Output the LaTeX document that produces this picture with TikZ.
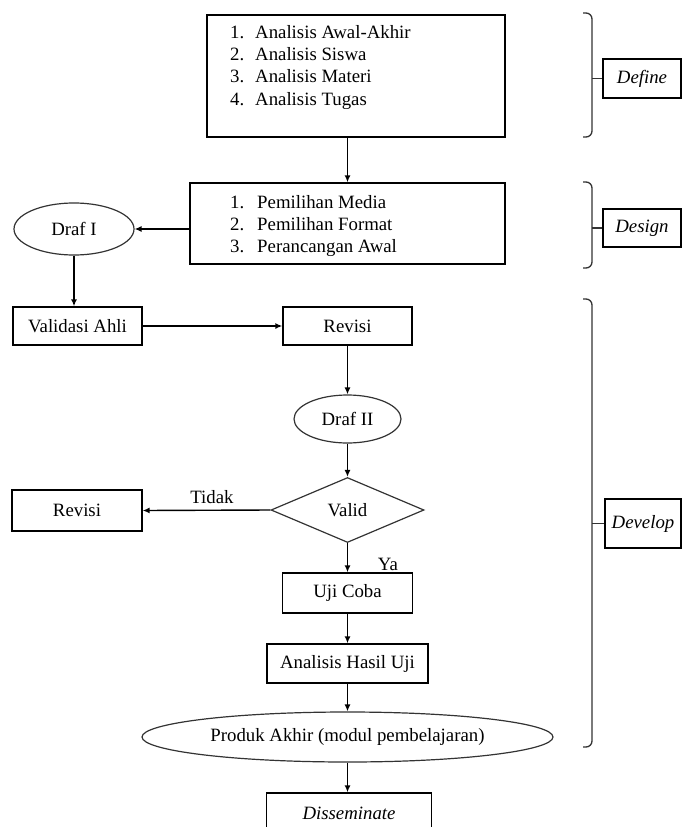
\documentclass[tikz,border=0pt]{standalone}
\usepackage{fontspec}
\setmainfont{Liberation Serif}
\usetikzlibrary{arrows.meta,shapes.geometric}
\newcommand{\diagfont}{\fontsize{18.8}{22.3}\selectfont}
\tikzset{
	box/.style={draw, line width=1.3pt, inner sep=0pt, align=center},
	oval/.style={draw=black!80, ellipse, line width=1.2pt, inner sep=0pt},
	decision/.style={draw=black!80, diamond, line width=1.2pt, inner sep=0pt},
	stage/.style={box, font=\diagfont\itshape},
	conn/.style={line width=1.4pt, -{Latex[length=7pt,width=6pt]}},
	brace/.style={line width=1.3pt, draw=black!80, rounded corners=6pt},
}

\begin{document}
\begin{tikzpicture}[x=1pt, y=-1pt, font=\diagfont]
		%%%%% START %%%%%
		\useasboundingbox (0,0) rectangle (683,827);
		\clip (0,0) rectangle (683,827);
		
		% define
		\node[box, minimum width=298pt, minimum height=122pt] (analisis) at (356,76) {};
		\node[anchor=north west, align=left, inner sep=0pt] (analisisTxt) at (230,25)
			{\makebox[25pt][l]{1.}Analisis Awal-Akhir\\
			 \makebox[25pt][l]{2.}Analisis Siswa\\
			 \makebox[25pt][l]{3.}Analisis Materi\\
			 \makebox[25pt][l]{4.}Analisis Tugas};
		
		% design
		\node[box, minimum width=315pt, minimum height=81pt] (rancang) at (347.5,223.5) {};
		\node[anchor=north west, align=left, inner sep=0pt] (rancangTxt) at (230,195)
			{\makebox[27pt][l]{1.}Pemilihan Media\\
			 \makebox[27pt][l]{2.}Pemilihan Format\\
			 \makebox[27pt][l]{3.}Perancangan Awal};
		\node[oval, minimum width=120pt, minimum height=52pt] (draf1) at (74,229) {Draf I};
		
		% develop
		\node[box, minimum width=129pt, minimum height=38pt] (validasi) at (77.5,326) {Validasi Ahli};
		\node[box, minimum width=129pt, minimum height=38pt] (revisiA) at (347.5,326) {Revisi};
		\node[oval, minimum width=107pt, minimum height=48pt] (draf2) at (347.5,419) {Draf II};
		\node[decision, minimum width=153pt, minimum height=65pt] (valid) at (347.5,510) {Valid};
		\node[box, minimum width=130pt, minimum height=41pt] (revisiB) at (77,510.5) {Revisi};
		\node[box, minimum width=130pt, minimum height=40pt] (ujicoba) at (347.5,593) {Uji Coba};
		\node[box, minimum width=161pt, minimum height=39pt] (hasil) at (347.5,663.5) {Analisis Hasil Uji};
		\node[oval, minimum width=411pt, minimum height=50pt] (produk) at (347.5,737) {Produk Akhir (modul pembelajaran)};
		\node[stage, minimum width=165pt, minimum height=40pt] (sebar) at (349,813) {Disseminate};
		
		\node (tidak) at (212,497) {Tidak};
		\node (ya) at (388,564) {Ya};
		
		\draw[conn] (rancang.north |- analisis.south) -- (rancang.north);
		\draw[conn] (rancang.west |- draf1.east) -- (draf1.east);
		\draw[conn] (draf1.south) -- (draf1.south |- validasi.north);
		\draw[conn] (validasi.east) -- (revisiA.west);
		\draw[conn] (revisiA.south) -- (draf2.north);
		\draw[conn] (draf2.south) -- (valid.north);
		\draw[conn] (valid.west) -- (revisiB.east);
		\draw[conn] (valid.south) -- (ujicoba.north);
		\draw[conn] (ujicoba.south) -- (hasil.north);
		\draw[conn] (hasil.south) -- (produk.north);
		\draw[conn] (produk.south) -- (produk.south |- sebar.north);
		
		% stages
		\node[stage, minimum width=78pt, minimum height=39pt] (define) at (642,78.5) {Define};
		\node[stage, minimum width=78pt, minimum height=38pt] (design) at (642,228) {Design};
		\node[stage, minimum width=76pt, minimum height=49pt] (develop) at (643,523.5) {Develop};
		
		\draw[brace] (583,13) -- (592,13) -- (592,137) -- (583,137);
		\draw[brace] (583,182) -- (592,182) -- (592,268) -- (583,268);
		\draw[brace] (583,299) -- (592,299) -- (592,747) -- (583,747);
		\coordinate (defineTick) at (592,78.5);
		\coordinate (designTick) at (592,228);
		\coordinate (developTick) at (592,523.5);
		\draw[brace] (defineTick) -- (define.west);
		\draw[brace] (designTick) -- (design.west);
		\draw[brace] (developTick) -- (develop.west);
		
		%%%%% END %%%%%
	\end{tikzpicture}
\end{document}
